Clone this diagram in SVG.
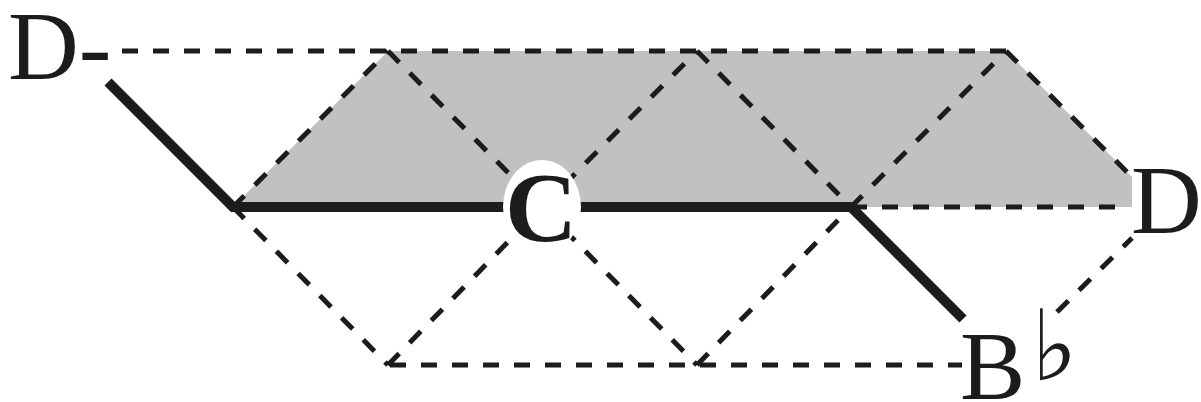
<svg xmlns="http://www.w3.org/2000/svg" width="1201" height="402" viewBox="0 0 1201 402">
<style>
.dash{fill:none;stroke:#1c1c1c;stroke-width:5;stroke-dasharray:16 15;}
.solid{fill:none;stroke:#1c1c1c;stroke-width:10;stroke-linecap:butt;stroke-linejoin:miter;}
text{fill:#1c1c1c;}
</style>
<rect width="1201" height="402" fill="#ffffff"/>
<polygon id="shade" points="233,207 388,51 1006,51 1132,177 1132,207" fill="#c1c1c1"/>
<g id="connectors">
  <line class="dash" x1="1006" y1="51" x2="118" y2="51"/>
  <line class="dash" x1="851" y1="207" x2="1126" y2="207"/>
  <line class="dash" x1="390" y1="365" x2="962" y2="365"/>
  <line class="dash" x1="233" y1="207" x2="388" y2="51"/>
  <line class="dash" x1="542" y1="207" x2="697" y2="51"/>
  <line class="dash" x1="851" y1="207" x2="1006" y2="51"/>
  <line class="dash" x1="388" y1="365" x2="542" y2="207"/>
  <line class="dash" x1="697" y1="365" x2="851" y2="207"/>
  <line class="dash" x1="1057" y1="312" x2="1132" y2="238"/>
  <line class="dash" x1="388" y1="51" x2="542" y2="207"/>
  <line class="dash" x1="697" y1="51" x2="851" y2="207"/>
  <line class="dash" x1="1006" y1="51" x2="1130" y2="175"/>
  <line class="dash" x1="233" y1="207" x2="388" y2="365"/>
  <line class="dash" x1="542" y1="207" x2="697" y2="365"/>
  <polyline class="solid" points="108,82 233,207 851,207 963,319"/>
</g>
<g id="node-Dminus"><text x="8" y="79" font-family="'Liberation Serif', 'Times New Roman', serif" font-size="98">D-</text></g>
<g id="node-C">
  <ellipse cx="542" cy="207" rx="39" ry="47" fill="#ffffff"/>
  <text x="541" y="241" text-anchor="middle" font-family="'Liberation Serif', 'Times New Roman', serif" font-weight="bold" font-size="100">C</text>
</g>
<g id="node-D"><text x="1131" y="233" font-family="'Liberation Serif', 'Times New Roman', serif" font-size="98">D</text></g>
<g id="node-Bb"><text x="960" y="399" font-family="'Liberation Serif', 'Times New Roman', serif" font-size="98">B<tspan font-family="'DejaVu Sans', sans-serif" font-size="98" dx="6" dy="-19">♭</tspan></text></g>
</svg>
